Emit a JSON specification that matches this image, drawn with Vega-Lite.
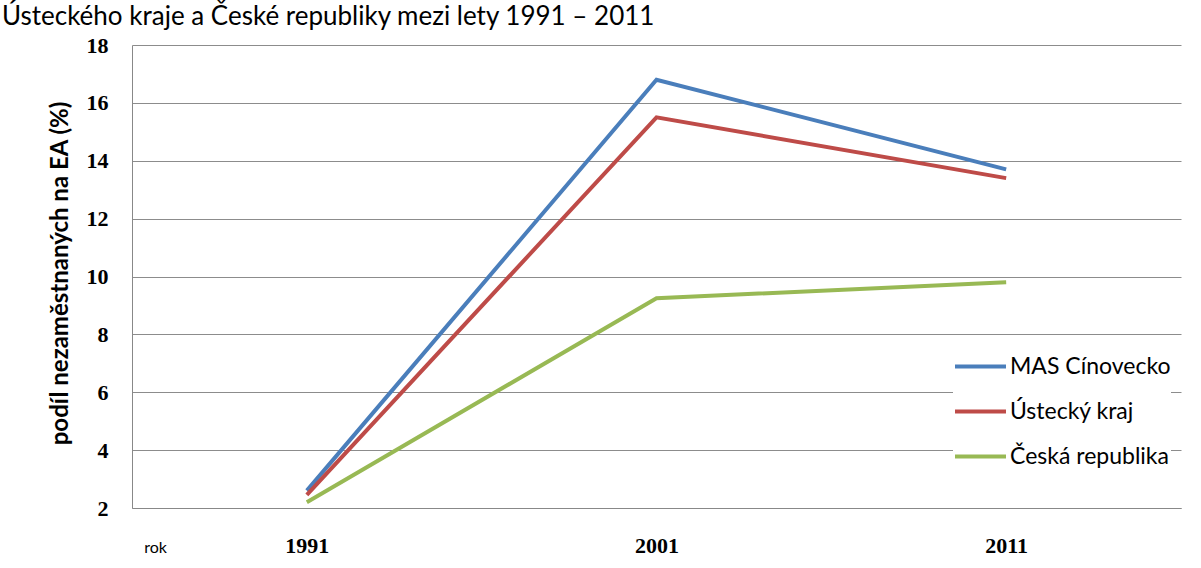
{
  "$schema": "https://vega.github.io/schema/vega-lite/v6.json",
  "autosize": "none",
  "width": 1049,
  "height": 463,
  "padding": {"left": 132, "top": 45, "right": 20, "bottom": 60},
  "background": "white",
  "title": {
    "text": "Ústeckého kraje a České republiky mezi lety 1991 – 2011",
    "anchor": "start",
    "frame": "group",
    "dx": -130,
    "offset": -17,
    "baseline": "alphabetic",
    "font": "Lato",
    "fontSize": 26,
    "fontWeight": "normal",
    "color": "black"
  },
  "data": {
    "values": [
      {"rok": "1991", "oblast": "MAS Cínovecko", "podil": 2.6},
      {"rok": "2001", "oblast": "MAS Cínovecko", "podil": 16.8},
      {"rok": "2011", "oblast": "MAS Cínovecko", "podil": 13.7},
      {"rok": "1991", "oblast": "Ústecký kraj", "podil": 2.45},
      {"rok": "2001", "oblast": "Ústecký kraj", "podil": 15.5},
      {"rok": "2011", "oblast": "Ústecký kraj", "podil": 13.4},
      {"rok": "1991", "oblast": "Česká republika", "podil": 2.2},
      {"rok": "2001", "oblast": "Česká republika", "podil": 9.25},
      {"rok": "2011", "oblast": "Česká republika", "podil": 9.8}
    ]
  },
  "mark": {"type": "line", "strokeWidth": 4, "strokeCap": "butt", "strokeJoin": "miter"},
  "encoding": {
    "x": {
      "field": "rok",
      "type": "ordinal",
      "scale": {"type": "point", "padding": 0.5},
      "axis": {
        "title": "rok",
        "titleX": 23,
        "titleY": 39,
        "titleAlign": "center",
        "titleBaseline": "middle",
        "titleFont": "Lato",
        "titleFontSize": 16,
        "titleFontWeight": "normal",
        "titleColor": "black",
        "labelAngle": 0,
        "labelFont": "Liberation Serif",
        "labelFontSize": 22,
        "labelFontWeight": "bold",
        "labelColor": "black",
        "labelPadding": 27,
        "ticks": false,
        "grid": false,
        "domainColor": "#888888",
        "domainWidth": 1
      }
    },
    "y": {
      "field": "podil",
      "type": "quantitative",
      "scale": {"domain": [2, 18], "nice": false, "zero": false},
      "axis": {
        "title": "podíl nezaměstnaných na EA (%)",
        "titleX": -72,
        "titleY": 228,
        "titleAngle": -90,
        "titleAlign": "center",
        "titleBaseline": "middle",
        "titleFont": "Lato",
        "titleFontSize": 24,
        "titleFontWeight": "bold",
        "titleColor": "black",
        "values": [2, 4, 6, 8, 10, 12, 14, 16, 18],
        "labelFont": "Liberation Serif",
        "labelFontSize": 22,
        "labelFontWeight": "bold",
        "labelColor": "black",
        "labelPadding": 24,
        "ticks": false,
        "grid": true,
        "gridColor": "#8c8c8c",
        "gridWidth": 1,
        "domainColor": "#888888",
        "domainWidth": 1
      }
    },
    "color": {
      "field": "oblast",
      "type": "nominal",
      "scale": {
        "domain": ["MAS Cínovecko", "Ústecký kraj", "Česká republika"],
        "range": ["#4a7ebb", "#be4b48", "#98b954"]
      },
      "legend": {
        "title": null,
        "orient": "none",
        "legendX": 821,
        "legendY": 294,
        "symbolType": "stroke",
        "symbolSize": 2600,
        "symbolStrokeWidth": 4,
        "labelFont": "Lato",
        "labelFontSize": 23,
        "labelColor": "black",
        "labelOffset": 2,
        "labelLimit": 400,
        "rowPadding": 5,
        "fillColor": "white"
      }
    }
  },
  "config": {"view": {"stroke": null}}
}
